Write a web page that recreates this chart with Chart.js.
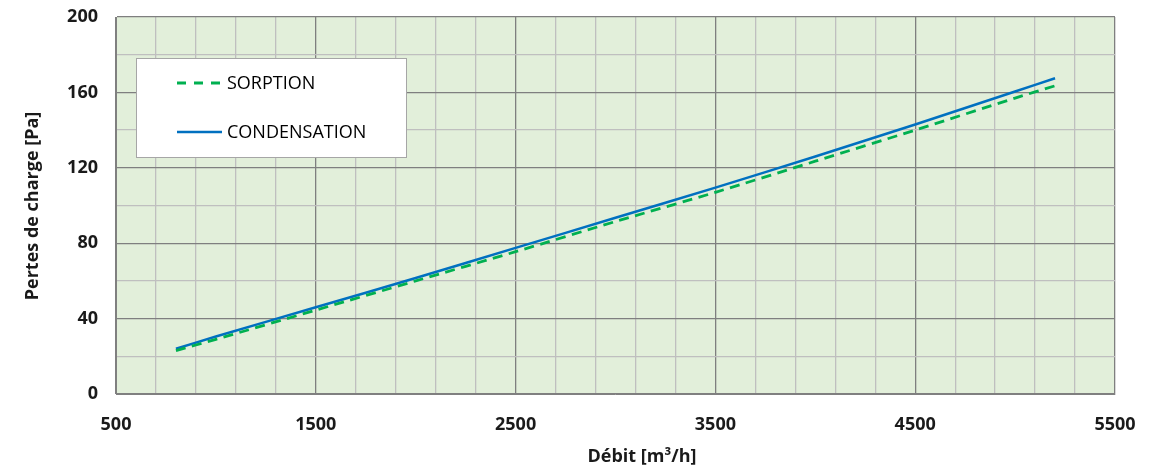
<!DOCTYPE html>
<html>
<head>
<meta charset="utf-8">
<script src="https://cdn.jsdelivr.net/npm/chart.js@4/dist/chart.umd.min.js"></script>
<style>
  html, body { margin: 0; padding: 0; background: #fff; }
  #wrap { width: 1168px; height: 471px; }
</style>
</head>
<body>
<div id="wrap"><canvas id="chart" width="1168" height="471"></canvas></div>
<script>
const debit = [800, 1000, 1500, 2000, 2500, 3000, 3500, 4000, 4500, 5000, 5200];
const sorption = [23, 29, 44.5, 60, 75.5, 91.5, 107, 123.5, 140, 157, 163.5];
const condensation = [24, 30.5, 46, 61.5, 77.5, 93.5, 109.5, 126, 143, 160.5, 167.5];

const xTitle = "Débit [m³/h]";
const yTitle = "Pertes de charge [Pa]";

const FONT = "'Open Sans', sans-serif";
const TEXT = "#1A1A1A";

const toPoints = (ys) => debit.map((x, i) => ({ x: x, y: ys[i] }));

// plot background, legend box and axis titles
const decor = {
  id: "decor",
  beforeDraw(chart) {
    const { ctx, chartArea: a } = chart;
    ctx.save();
    ctx.fillStyle = "#E2EFDA";
    ctx.fillRect(a.left, a.top, a.right - a.left, a.bottom - a.top);
    ctx.restore();
  },
  afterDraw(chart) {
    const { ctx, chartArea: a } = chart;
    ctx.save();

    // legend
    const lx = a.left + 20, ly = a.top + 41;
    ctx.fillStyle = "#fff";
    ctx.fillRect(lx, ly, 270, 99);
    ctx.strokeStyle = "#A6A6A6";
    ctx.lineWidth = 1;
    ctx.strokeRect(lx + 0.5, ly + 0.5, 270, 99);

    const rows = [25, 74];
    chart.data.datasets.forEach((ds, i) => {
      const y = ly + rows[i];
      ctx.beginPath();
      ctx.strokeStyle = ds.borderColor;
      ctx.lineWidth = ds.borderWidth;
      ctx.setLineDash(ds.borderDash ? [9, 8] : []);
      ctx.moveTo(lx + 41, y);
      ctx.lineTo(lx + 86, y);
      ctx.stroke();
      ctx.setLineDash([]);
      ctx.fillStyle = "#000";
      ctx.font = "18px " + FONT;
      ctx.textBaseline = "middle";
      ctx.textAlign = "left";
      ctx.fillText(ds.label, lx + 91, y + 1);
    });

    // axis titles
    ctx.fillStyle = TEXT;
    ctx.font = "bold 18px " + FONT;
    ctx.textAlign = "center";
    ctx.textBaseline = "middle";
    ctx.fillText(xTitle, 642, 457);

    ctx.translate(33, 206);
    ctx.rotate(-Math.PI / 2);
    ctx.fillText(yTitle, 0, 0);
    ctx.restore();
  }
};

new Chart(document.getElementById("chart"), {
  type: "line",
  data: {
    datasets: [
      {
        label: "SORPTION",
        data: toPoints(sorption),
        borderColor: "#00B050",
        borderWidth: 2.8,
        borderDash: [10, 6.5],
        pointRadius: 0,
        tension: 0.3,
        fill: false
      },
      {
        label: "CONDENSATION",
        data: toPoints(condensation),
        borderColor: "#0070C0",
        borderWidth: 2.5,
        pointRadius: 0,
        tension: 0.3,
        fill: false
      }
    ]
  },
  options: {
    responsive: false,
    animation: false,
    layout: { padding: { left: 0, right: 53, top: 17, bottom: 0 } },
    plugins: {
      legend: { display: false },
      tooltip: { enabled: false }
    },
    scales: {
      x: {
        type: "linear",
        min: 500,
        max: 5500,
        afterFit: (s) => { s.height = 77; s.paddingLeft = 0; s.paddingRight = 0; },
        afterBuildTicks: (s) => {
          const t = [];
          for (let v = 500; v <= 5500; v += 200) t.push({ value: v });
          if (t[t.length - 1].value !== 5500) t.push({ value: 5500 });
          s.ticks = t;
        },
        border: { color: "#808080", width: 1 },
        grid: {
          drawTicks: false,
          lineWidth: 1.3,
          color: (c) => ((c.tick.value - 500) % 1000 === 0 ? "#7F7F7F" : "#BFBFBF")
        },
        ticks: {
          padding: 20,
          autoSkip: false,
          maxRotation: 0,
          color: TEXT,
          font: { family: FONT, size: 18, weight: "bold" },
          callback: (v) => ((v - 500) % 1000 === 0 ? String(v) : "")
        }
      },
      y: {
        min: 0,
        max: 200,
        afterFit: (s) => { s.width = 116; s.paddingTop = 0; s.paddingBottom = 0; },
        border: { color: "#808080", width: 1 },
        grid: {
          drawTicks: false,
          lineWidth: 1.3,
          color: (c) => (c.tick.value % 40 === 0 ? "#7F7F7F" : "#BFBFBF")
        },
        ticks: {
          stepSize: 20,
          padding: 18,
          color: TEXT,
          font: { family: FONT, size: 18, weight: "bold" },
          callback: (v) => (v % 40 === 0 ? String(v) : "")
        }
      }
    }
  },
  plugins: [decor]
});
</script>
</body>
</html>
